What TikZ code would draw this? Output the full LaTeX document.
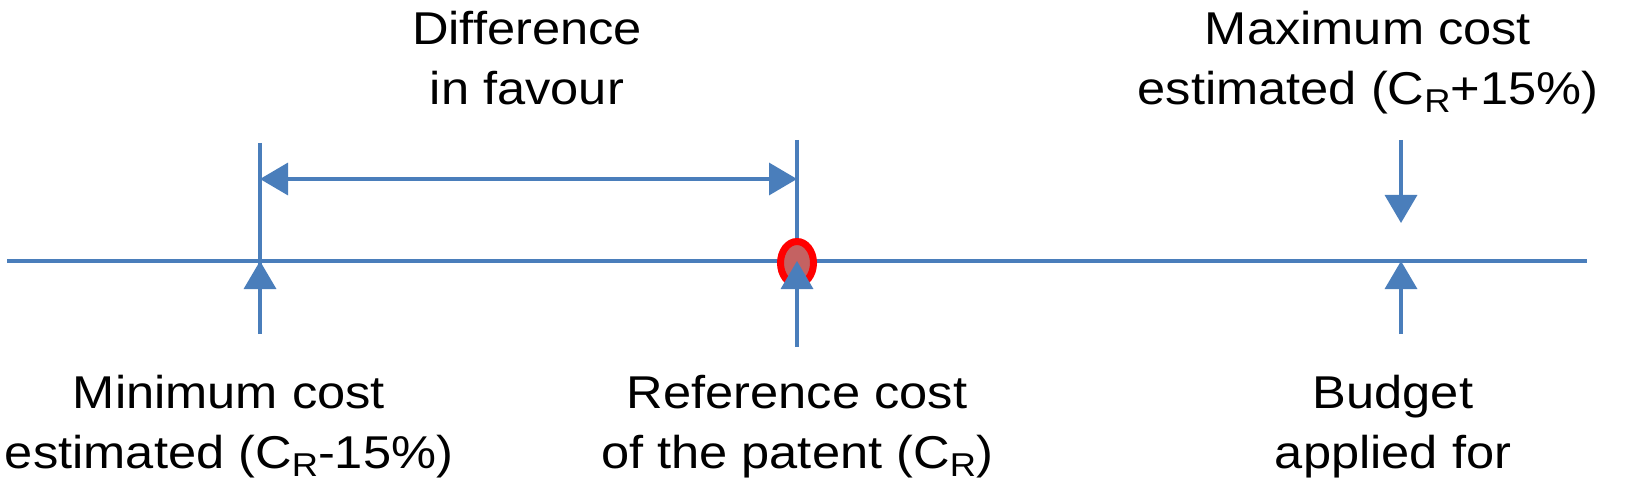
\documentclass[tikz,border=0pt]{standalone}
\usepackage{fontspec}
\setmainfont{Liberation Sans}[FakeStretch=1.1]
\usetikzlibrary{arrows.meta,shapes.geometric}
\definecolor{lineblue}{RGB}{74,126,187}
\definecolor{markred}{RGB}{255,0,0}
\definecolor{markfill}{RGB}{196,98,98}
\newcommand{\CRsub}{C\raisebox{-8pt}{\fontsize{33}{33}\selectfont R}}
\tikzset{
  lbl/.style={font=\fontsize{46}{60}\selectfont, align=center, inner sep=0pt, anchor=base},
  axisline/.style={draw=lineblue, line width=3.4pt},
  tipped/.style={axisline, -{Triangle[length=28pt,width=32pt]}},
  twotipped/.style={axisline, {Triangle[length=28pt,width=32pt]}-{Triangle[length=28pt,width=32pt]}},
}
\begin{document}
\begin{tikzpicture}[x=1pt,y=-1pt]
\useasboundingbox (0,0) rectangle (1625,489);
% key points
\coordinate (axL) at (7,261);
\coordinate (axR) at (1587,261);
\coordinate (minP) at (260,261);
\coordinate (refP) at (797,261);
\coordinate (budP) at (1401,261);
\coordinate (minTop) at (260,143);
\coordinate (minBot) at (260,334);
\coordinate (refTop) at (797,140);
\coordinate (refBot) at (797,347);
\coordinate (budBot) at (1401,334);
\coordinate (maxTop) at (1401,140);
\coordinate (maxTip) at (1401,223);
\coordinate (difL) at (260,179);
\coordinate (difR) at (797,179);
% lines
\draw[axisline] (axL) -- (axR);
\draw[axisline] (minTop) -- (minBot);
\draw[axisline] (refTop) -- (refBot);
\draw[twotipped] (difL) -- (difR);
\draw[tipped] (maxTop) -- (maxTip);
% red marker
\node[draw=markred, fill=markfill, line width=7pt, ellipse, minimum width=33pt, minimum height=43pt, inner sep=0pt] (mark) at (797,263) {};
% up arrows
\draw[tipped] (minBot) -- (minP);
\draw[tipped] (refBot) -- (refP);
\draw[tipped] (budBot) -- (budP);
% labels (anchor = baseline of last line)
\node[lbl] (difText) at (527,105) {Difference\\in favour};
\node[lbl] (maxText) at (1368,105) {Maximum cost\\estimated (\CRsub+15\%)};
\node[lbl] (minText) at (229,468) {Minimum cost\\estimated (\CRsub-15\%)};
\node[lbl] (refText) at (797,468) {Reference cost\\of the patent (\CRsub)};
\node[lbl] (budText) at (1393,468) {Budget\\applied for};
\end{tikzpicture}
\end{document}
